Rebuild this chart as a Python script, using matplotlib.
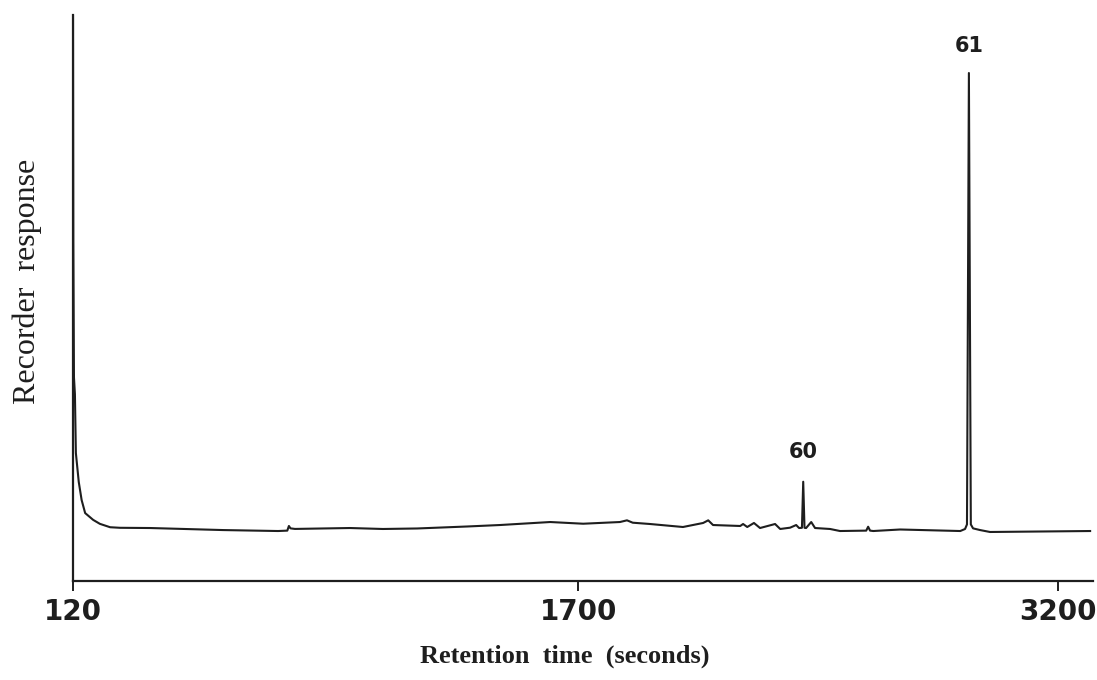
import matplotlib
matplotlib.use("Agg")
import matplotlib.pyplot as plt

# Retention time (s) and recorder response (arbitrary units, 0-100)
time_s = [120, 121, 123, 126, 129, 138, 147, 158, 183, 204, 236, 267, 361,
          589, 761, 790, 795, 800, 814, 986, 1089, 1196, 1352, 1455, 1612,
          1715, 1830, 1852, 1870, 1924, 2027, 2090, 2106, 2121, 2206, 2215,
          2228, 2249, 2268, 2315, 2331, 2362, 2381, 2390, 2399, 2403, 2407,
          2412, 2428, 2440, 2487, 2518, 2600, 2606, 2612, 2622, 2706, 2894,
          2909, 2915, 2921, 2927, 2934, 2956, 2987, 3300]
response = [100, 60, 36, 33, 22.6, 17.5, 14.3, 12.0, 10.8, 10.1, 9.5, 9.4, 9.36,
            9.0, 8.83, 8.9, 9.72, 9.3, 9.2, 9.36, 9.19, 9.28, 9.63, 9.89, 10.42,
            10.12, 10.42, 10.72, 10.3, 10.07, 9.54, 10.25, 10.72, 9.89, 9.72, 10.07,
            9.54, 10.25, 9.36, 10.07, 9.19, 9.42, 9.89, 9.36, 9.4, 17.54, 9.4,
            9.36, 10.42, 9.36, 9.19, 8.83, 8.9, 9.59, 8.9, 8.83, 9.10, 8.83,
            9.19, 10.0, 89.75, 10.0, 9.3, 9.0, 8.66, 8.83]

peak_labels = ["60", "61"]
peak_times = [2403, 2921]
peak_label_y = [22.8, 94.5]

tick_values = [120, 1700, 3200]
tick_labels = ["120", "1700", "3200"]

ink = "#1e1e1e"

fig = plt.figure(figsize=(10.97, 6.8), dpi=100)
ax = fig.add_axes([73 / 1097, 99 / 680, (1093 - 73) / 1097, 566 / 680])

ax.plot(time_s, response, color=ink, lw=1.5, solid_joinstyle="round")

for lab, t, y in zip(peak_labels, peak_times, peak_label_y):
    ax.text(t, y, lab, ha="center", va="center", fontsize=15,
            fontweight="bold", family="DejaVu Sans", color=ink)

ax.set_xlim(120, 3309)
ax.set_ylim(0, 100)

for s in ["top", "right"]:
    ax.spines[s].set_visible(False)
for s in ["left", "bottom"]:
    ax.spines[s].set_linewidth(1.6)
    ax.spines[s].set_color(ink)

ax.set_yticks([])
ax.set_xticks(tick_values)
ax.set_xticklabels(tick_labels, fontsize=20, fontweight="bold",
                   family="DejaVu Sans", color=ink)
ax.tick_params(axis="x", direction="out", length=7, width=1.4, color=ink, pad=5)

ax.set_xlabel("Retention  time  (seconds)", fontsize=19, fontweight="bold",
              family="Liberation Serif", color=ink)
ax.xaxis.set_label_coords(0.482, -0.113)
ax.set_ylabel("Recorder  response", fontsize=23, family="Liberation Serif",
              color=ink)
ax.yaxis.set_label_coords(-0.03, 0.53)

fig.savefig("out.png", dpi=100)
